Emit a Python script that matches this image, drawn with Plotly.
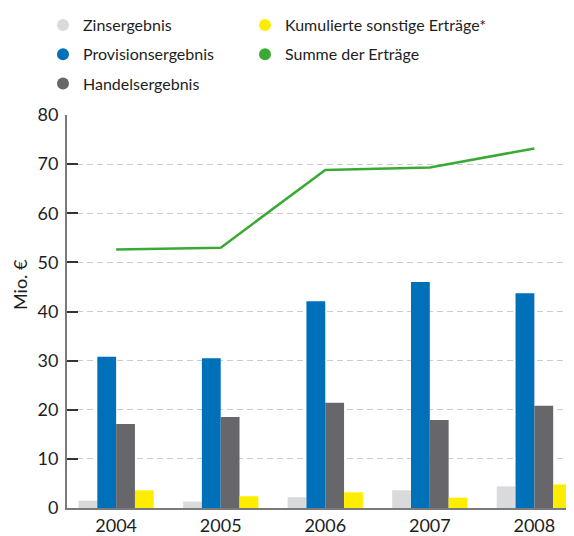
import plotly.graph_objects as go

years = [2004, 2005, 2006, 2007, 2008]
year_labels = ["2004", "2005", "2006", "2007", "2008"]
zinsergebnis = [1.5, 1.3, 2.2, 3.6, 4.4]
provisionsergebnis = [30.8, 30.5, 42.1, 46.0, 43.7]
handelsergebnis = [17.1, 18.5, 21.4, 17.9, 20.8]
kumulierte_sonstige = [3.6, 2.4, 3.2, 2.1, 4.8]
summe_ertraege = [52.6, 53.0, 68.8, 69.3, 73.2]
y_ticks = [0, 10, 20, 30, 40, 50, 60, 70, 80]

C_ZINS = "#d9dadb"
C_PROV = "#0070b8"
C_HAND = "#67666b"
C_KUM = "#ffed00"
C_SUM = "#3aaa35"

FONT = "Lato"
TXT = "#1e1e1e"

# page body has an 8px margin: figure is sized to fit the window
W, H = 566, 528

fig = go.Figure()

for name, vals, col in [
    ("Zinsergebnis", zinsergebnis, C_ZINS),
    ("Provisionsergebnis", provisionsergebnis, C_PROV),
    ("Handelsergebnis", handelsergebnis, C_HAND),
    ("Kumulierte sonstige Erträge*", kumulierte_sonstige, C_KUM),
]:
    fig.add_trace(go.Bar(x=years, y=vals, name=name, marker=dict(color=col, line=dict(width=0)),
                         showlegend=False))

fig.add_trace(go.Scatter(x=years, y=summe_ertraege, mode="lines", name="Summe der Erträge",
                         line=dict(color=C_SUM, width=2.5), showlegend=False))

# legend entries with circle markers, two columns
for name, col, lg in [
    ("Zinsergebnis", C_ZINS, "legend"),
    ("Provisionsergebnis", C_PROV, "legend"),
    ("Handelsergebnis", C_HAND, "legend"),
    ("Kumulierte sonstige Erträge*", C_KUM, "legend2"),
    ("Summe der Erträge", C_SUM, "legend2"),
]:
    fig.add_trace(go.Scatter(x=[None], y=[None], mode="markers", name=name,
                             legend=lg, legendgroup=name,
                             marker=dict(color=col, size=12, symbol="circle")))

leg_common = dict(
    orientation="v", xref="container", yref="container",
    xanchor="left", yanchor="top",
    font=dict(family=FONT, size=16, color=TXT),
    itemclick=False, tracegroupgap=5.5, traceorder="grouped",
    bgcolor="rgba(0,0,0,0)",
)

fig.update_layout(
    width=W, height=H,
    margin=dict(l=59, r=2, t=107, b=28, autoexpand=False),
    paper_bgcolor="white", plot_bgcolor="white",
    font=dict(family=FONT, size=18, color=TXT),
    barmode="group", bargap=0.28, bargroupgap=0,
    legend=dict(x=35 / W, y=1 + 2 / H, **leg_common),
    legend2=dict(x=237 / W, y=1 + 2 / H, **leg_common),
    xaxis=dict(
        range=[2003.53, 2008.36], tickvals=years, ticktext=year_labels,
        showgrid=False, zeroline=False, ticks="",
        showline=True, linecolor="#7a7a7a", linewidth=2,
        tickfont=dict(size=18, color=TXT), fixedrange=True,
    ),
    yaxis=dict(
        range=[0, 80], tickvals=y_ticks,
        showgrid=True, gridcolor="#cccccc", gridwidth=1, griddash="6px,4px",
        zeroline=False, showline=True, linecolor="#7a7a7a", linewidth=2,
        ticks="inside", ticklen=11, tickcolor="#333333", tickwidth=1.5,
        tickfont=dict(size=18, color=TXT), ticklabelstandoff=3,
        fixedrange=True,
    ),
    annotations=[dict(
        text="Mio. €", textangle=-90, xref="paper", yref="paper",
        x=(12 - 59) / (W - 61), y=(H - 28 - 277) / (H - 135),
        xanchor="center", yanchor="middle", showarrow=False,
        font=dict(family=FONT, size=18, color=TXT),
    )],
)

fig.write_html("out.html")
